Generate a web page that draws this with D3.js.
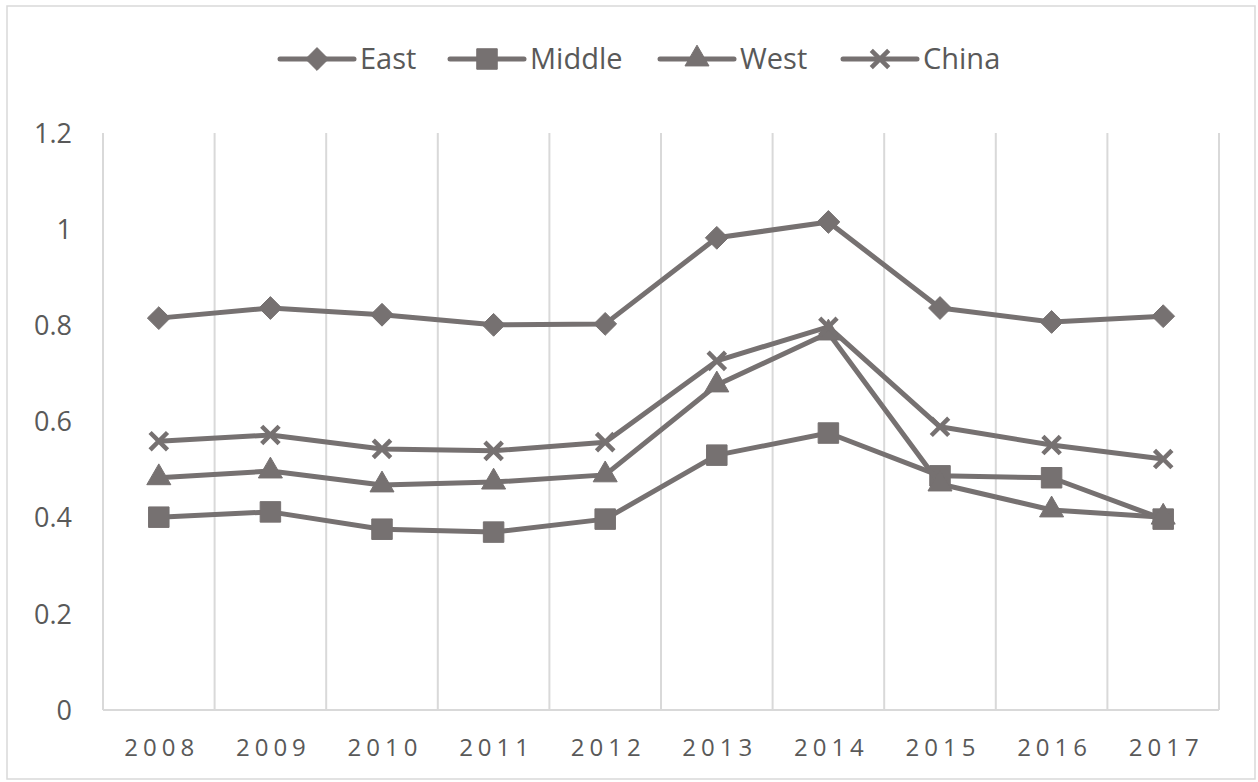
<!DOCTYPE html>
<html>
<head>
<meta charset="utf-8">
<script src="https://cdn.jsdelivr.net/npm/d3@7"></script>
<style>
  body { margin: 0; background: #fff; }
  text { font-family: "Open Sans", "Noto Sans", sans-serif; fill: #595959; }
</style>
</head>
<body>
<div id="chart"></div>
<script>
// data
var years = ["2008", "2009", "2010", "2011", "2012", "2013", "2014", "2015", "2016", "2017"];
var east   = [0.815, 0.836, 0.822, 0.801, 0.803, 0.982, 1.015, 0.836, 0.807, 0.819];
var middle = [0.401, 0.412, 0.376, 0.370, 0.397, 0.530, 0.576, 0.487, 0.483, 0.397];
var west   = [0.483, 0.497, 0.468, 0.474, 0.489, 0.676, 0.784, 0.470, 0.416, 0.401];
var china  = [0.559, 0.572, 0.543, 0.539, 0.557, 0.726, 0.797, 0.589, 0.551, 0.522];
var yTicks = [0, 0.2, 0.4, 0.6, 0.8, 1, 1.2];

// square turned 45 degrees, like the spreadsheet diamond
var squareDiamond = {
  draw: function(context, size) {
    var r = Math.sqrt(size / 2);
    context.moveTo(0, -r);
    context.lineTo(r, 0);
    context.lineTo(0, r);
    context.lineTo(-r, 0);
    context.closePath();
  }
};

var seriesList = [
  {name: "East",   values: east,   symbol: squareDiamond,     size: 260},
  {name: "Middle", values: middle, symbol: d3.symbolSquare,   size: 420},
  {name: "West",   values: west,   symbol: d3.symbolTriangle, size: 250},
  {name: "China",  values: china,  symbol: d3.symbolX,        size: 200}
];

var W = 1258, H = 782;
var margin = {top: 133, right: 39, bottom: 72, left: 103},
    width = W - margin.left - margin.right,
    height = H - margin.top - margin.bottom;

var lineColor = "#767171",
    gridColor = "#d9d9d9";

var svg = d3.select("#chart")
  .append("svg")
    .attr("width", W)
    .attr("height", H);

// outer frame
svg.append("rect")
    .attr("x", 7).attr("y", 6)
    .attr("width", W - 10).attr("height", H - 9)
    .attr("fill", "none")
    .attr("stroke", gridColor)
    .attr("stroke-width", 1.5);

var g = svg.append("g")
    .attr("transform", "translate(" + margin.left + "," + margin.top + ")");

var x = d3.scaleBand()
    .domain(years)
    .range([0, width]);

var y = d3.scaleLinear()
    .domain([0, 1.2])
    .range([height, 0]);

// vertical gridlines at category boundaries
var bounds = years.map(function(d) { return x(d); }).concat([width]);
g.selectAll(".vgrid")
  .data(bounds)
  .enter().append("line")
    .attr("x1", function(d) { return d; })
    .attr("x2", function(d) { return d; })
    .attr("y1", 0)
    .attr("y2", height)
    .attr("stroke", gridColor)
    .attr("stroke-width", 2);

// x axis line
g.append("line")
    .attr("x1", 0).attr("x2", width)
    .attr("y1", height).attr("y2", height)
    .attr("stroke", gridColor)
    .attr("stroke-width", 2);

// y tick labels
g.selectAll(".ylab")
  .data(yTicks)
  .enter().append("text")
    .attr("x", -31)
    .attr("y", function(d) { return y(d); })
    .attr("dy", "0.36em")
    .attr("text-anchor", "end")
    .style("font-size", "27px")
    .text(function(d) { return d3.format("~g")(d); });

// x tick labels
g.selectAll(".xlab")
  .data(years)
  .enter().append("text")
    .attr("x", function(d) { return x(d) + x.bandwidth() / 2 + 3; })
    .attr("y", height + 46)
    .attr("text-anchor", "middle")
    .style("font-size", "24px")
    .style("letter-spacing", "5px")
    .text(function(d) { return d; });

var line = d3.line()
    .x(function(d, i) { return x(years[i]) + x.bandwidth() / 2; })
    .y(function(d) { return y(d); });

function drawSymbol(sel, s) {
  var p = sel.append("path")
      .attr("d", d3.symbol().type(s.symbol).size(s.size));
  if (s.symbol === d3.symbolX) {
    p.attr("fill", "none").attr("stroke", lineColor).attr("stroke-width", 4.5);
  } else {
    p.attr("fill", lineColor).attr("stroke", lineColor)
     .attr("stroke-width", 1).attr("stroke-linejoin", "round");
  }
  return p;
}

seriesList.forEach(function(s) {
  g.append("path")
      .datum(s.values)
      .attr("fill", "none")
      .attr("stroke", lineColor)
      .attr("stroke-width", 5)
      .attr("stroke-linejoin", "round")
      .attr("d", line);

  s.values.forEach(function(v, i) {
    var m = g.append("g")
        .attr("transform", "translate(" + (x(years[i]) + x.bandwidth() / 2) + "," + y(v) + ")");
    drawSymbol(m, s);
  });
});

// legend
var legendX = [280, 450, 660, 843];
var legend = svg.selectAll(".legend")
  .data(seriesList)
  .enter().append("g")
    .attr("transform", function(d, i) { return "translate(" + legendX[i] + ",59)"; });

legend.append("line")
    .attr("x1", 0).attr("x2", 74)
    .attr("y1", 0).attr("y2", 0)
    .attr("stroke", lineColor)
    .attr("stroke-width", 5)
    .attr("stroke-linecap", "round");

legend.each(function(d) {
  var m = d3.select(this).append("g").attr("transform", "translate(37,0)");
  drawSymbol(m, d);
});

legend.append("text")
    .attr("x", 80)
    .attr("y", 0)
    .attr("dy", "0.36em")
    .style("font-size", "29px")
    .text(function(d) { return d.name; });
</script>
</body>
</html>
